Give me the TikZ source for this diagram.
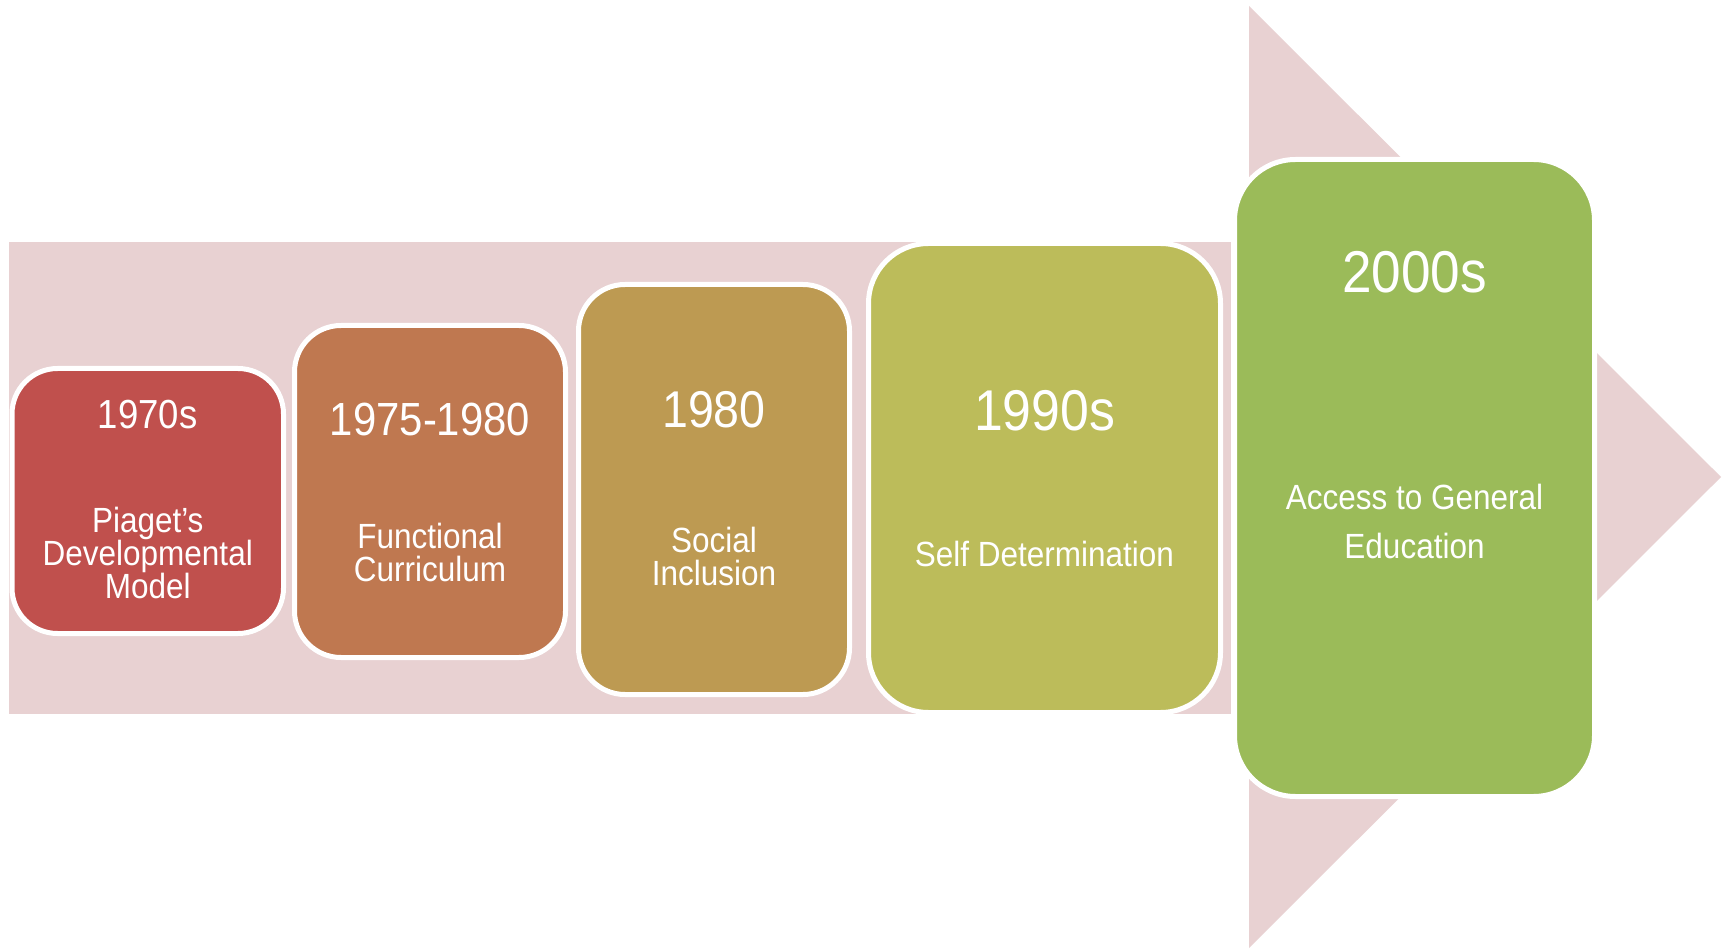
\documentclass[tikz,border=0pt]{standalone}
\usepackage{fontspec}
\setmainfont{Liberation Sans}[FakeStretch=0.9]
\definecolor{band}{HTML}{E8D1D2}
\definecolor{cA}{HTML}{C0504D}
\definecolor{cB}{HTML}{BF7850}
\definecolor{cC}{HTML}{BD9A52}
\definecolor{cD}{HTML}{BCBC5A}
\definecolor{cE}{HTML}{9BBB59}
\begin{document}
\begin{tikzpicture}[x=1pt,y=-1pt,
  stage/.style={draw=white, line width=5pt, inner sep=0pt, outer sep=0pt},
  yeartxt/.style={text=white, inner sep=0pt, font=\fontsize{#1}{#1}\selectfont},
  bodytxt/.style={text=white, inner sep=0pt, align=center, font=\fontsize{35}{33}\selectfont},
  bodywide/.style={text=white, inner sep=0pt, align=center, font=\fontsize{35}{49}\selectfont}]
\useasboundingbox (0,0) rectangle (1727,949);
\fill[white] (0,0) rectangle (1727,949);
% arrow
\fill[band] (9,242) rectangle (1231,714);
\fill[band] (1249,6) -- (1721,477) -- (1249,948) -- cycle;
% stages
\node[stage, fill=cA, rounded corners=45.5pt, minimum width=271.5pt, minimum height=265pt] (b1) at (147.75,501) {};
\node[stage, fill=cB, rounded corners=46.5pt, minimum width=271pt, minimum height=332pt] (b2) at (430,491.5) {};
\node[stage, fill=cC, rounded corners=46.5pt, minimum width=271pt, minimum height=410pt] (b3) at (714,489.5) {};
\node[stage, fill=cD, rounded corners=60pt, minimum width=352pt, minimum height=469pt] (b4) at (1044.5,478) {};
\node[stage, fill=cE, rounded corners=61pt, minimum width=360pt, minimum height=637pt] (b5) at (1414.5,478) {};
% years
\node[yeartxt=40.6] (y1) at (147.75,415) {1970s};
\node[yeartxt=46.5] (y2) at (430,419) {1975-1980};
\node[yeartxt=51.7] (y3) at (714,410) {1980};
\node[yeartxt=57.5] (y4) at (1044.5,411) {1990s};
\node[yeartxt=59] (y5) at (1414.5,272.5) {2000s};
% descriptions
\node[bodytxt] (t1) at (147.75,553) {Piaget’s\\Developmental\\Model};
\node[bodytxt] (t2) at (430,552) {Functional\\Curriculum};
\node[bodytxt] (t3) at (714,556) {Social\\Inclusion};
\node[bodytxt] (t4) at (1044.5,554) {Self Determination};
\node[bodywide] (t5) at (1414.5,521) {Access to General\\Education};
\end{tikzpicture}
\end{document}
